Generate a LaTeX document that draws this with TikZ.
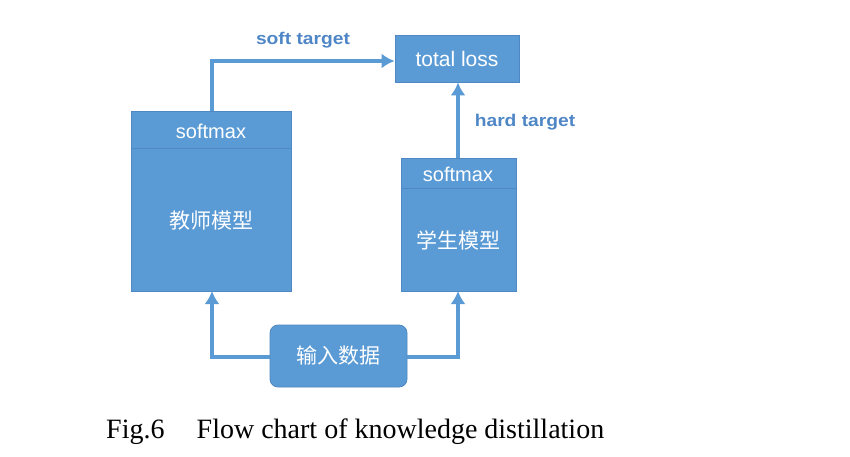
\documentclass[tikz,border=0pt]{standalone}
\usepackage{fontspec}
\usepackage{graphicx}
\setmainfont{Liberation Serif}
\setsansfont{Liberation Sans}
\newfontfamily\cjk{Noto Sans CJK SC}
\usetikzlibrary{arrows.meta}
\definecolor{boxblue}{HTML}{5B9BD5}
\definecolor{boxedge}{HTML}{4F88C2}
\definecolor{lblblue}{HTML}{4F86C6}
\tikzset{
  x=1pt, y=-1pt,
  blk/.style={draw=boxedge, fill=boxblue, line width=0.8pt},
  wtxt/.style={text=white, font=\sffamily\fontsize{20}{20}\selectfont},
  ctxt/.style={text=white, font=\cjk\fontsize{21}{21}\selectfont},
  conn/.style={draw=boxblue, line width=3.5pt, -{Latex[length=13pt,width=15pt]}},
  lbl/.style={text=lblblue, font=\sffamily\bfseries\fontsize{17}{17}\selectfont},
}
\begin{document}
\begin{tikzpicture}
\useasboundingbox (0,0) rectangle (850,456);
% teacher
\path[blk] (131,111) rectangle (291,291);
\draw[boxedge, line width=0.6pt] (131,148) -- (291,148);
\coordinate (tTop) at (212,111);
\coordinate (tBot) at (212,291);
\node[wtxt] (tsm) at (211,131) {softmax};
\node[ctxt] (tch) at (211,221) {教师模型};
% student
\path[blk] (401,158) rectangle (516,291);
\draw[boxedge, line width=0.6pt] (401,188) -- (516,188);
\coordinate (sTop) at (458,158);
\coordinate (sBot) at (458,291);
\node[wtxt] (ssm) at (458,174) {softmax};
\node[ctxt] (sch) at (458,240) {学生模型};
% total loss
\node[blk, minimum width=124pt, minimum height=47pt, inner sep=0pt, text=white, font=\sffamily\fontsize{21}{21}\selectfont] (loss) at (457,58.5) {total loss};
% input
\node[blk, rounded corners=8pt, minimum width=137pt, minimum height=62pt, inner sep=0pt, ctxt] (inp) at (338.5,356) {输入数据};
% connectors
\draw[conn] (tTop) -- (212,61) -- (loss.west |- 0,61);
\draw[conn] (sTop) -- (loss.south -| sTop);
\draw[conn] (inp.west |- 0,357) -- (212,357) -- (tBot);
\draw[conn] (inp.east |- 0,357) -- (458,357) -- (sBot);
% labels
\node[lbl] (soft) at (303,40) {\scalebox{1.13}[1]{soft target}};
\node[lbl] (hard) at (525,122) {\scalebox{1.13}[1]{hard target}};
% caption
\node[anchor=west, font=\fontsize{28}{28}\selectfont, inner sep=0pt] (cap) at (106,432) {Fig.6\hspace{1.15em}Flow chart of knowledge distillation};
\end{tikzpicture}
\end{document}
